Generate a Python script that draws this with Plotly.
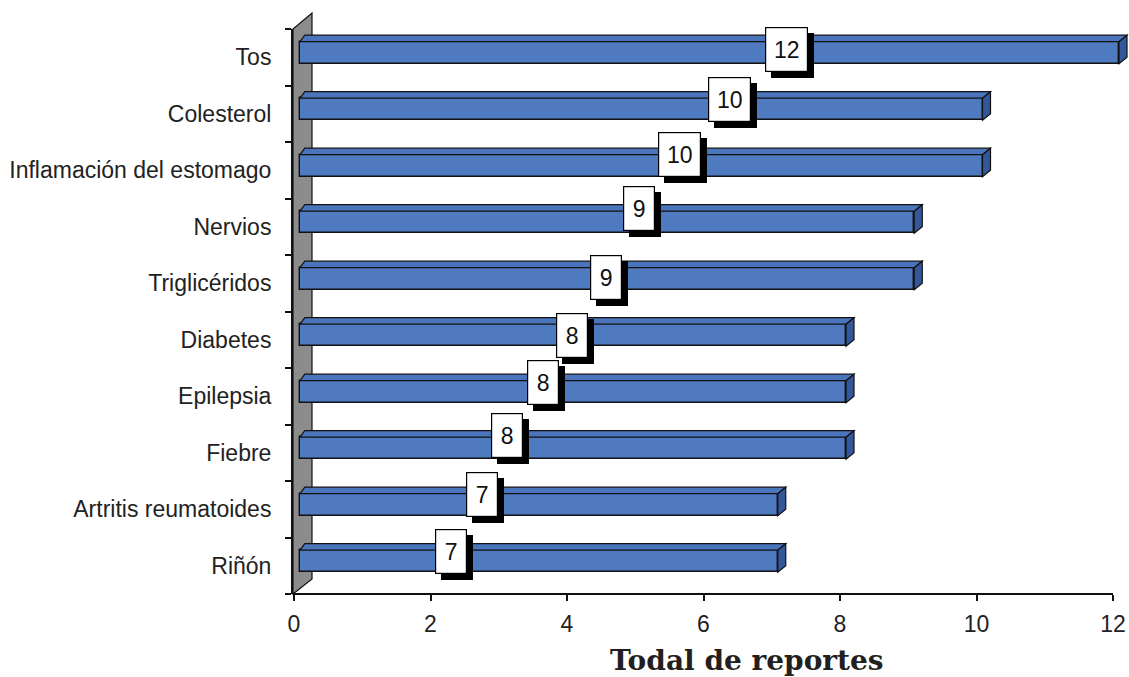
import plotly.graph_objects as go

# ---------------- data ----------------
categories = ["Tos", "Colesterol", "Inflamación del estomago", "Nervios", "Triglicéridos",
              "Diabetes", "Epilepsia", "Fiebre", "Artritis reumatoides", "Riñón"]
values = [12, 10, 10, 9, 9, 8, 8, 8, 7, 7]
x_ticks = [0, 2, 4, 6, 8, 10, 12]
x_title = "Todal de reportes"

# where the value boxes sit in the original (axis units / category units)
label_x = [7.215, 6.388, 5.646, 5.06, 4.571, 4.069, 3.653, 3.125, 2.75, 2.295]
label_lift = [0.062, 0.177, 0.195, 0.239, 0.018, 0.0, 0.159, 0.23, 0.177, 0.177]

# ---------------- style ----------------
W, H = 1129, 677
ML, MR, MT, MB = 293, 0, 29, 83
FRONT = "#4F7AC0"
TOP = "#4A74BB"
SIDE = "#34579A"
EDGE = "#111111"
FONT = "Arial, Liberation Sans, sans-serif"
PX_PER_UNIT = 68.25
X_LO = -1 / PX_PER_UNIT
X_HI = X_LO + (W - ML - MR) / PX_PER_UNIT
PX_PER_CAT = (H - MT - MB) / len(categories)
SHIFT = 6 / PX_PER_UNIT        # bars start a little behind the front axis
BAR_W = 0.39
BAR_OFF = -0.275
DX = 8 / PX_PER_UNIT
DY = 6.5 / PX_PER_CAT

idx = list(range(len(categories)))

fig = go.Figure()
fig.add_trace(go.Bar(
    orientation="h", y=idx, x=values, base=SHIFT, width=BAR_W, offset=BAR_OFF,
    marker=dict(color=FRONT, line=dict(color=EDGE, width=1.4)),
    hoverinfo="skip", showlegend=False,
))

shapes = []
# grey 3-D wall behind the category axis
wall_dx = 19 / (W - ML - MR)
shapes.append(dict(
    type="path", xref="paper", yref="paper", layer="below",
    path=f"M 0,0 L 0,1 L {wall_dx},{1 + 16 / (H - MT - MB)} L {wall_dx},{15 / (H - MT - MB)} Z",
    fillcolor="#8C8C8C", line=dict(color="#111111", width=1.2),
))

# 3-D top and end faces of each bar
for i, v in zip(idx, values):
    yt = i + BAR_OFF
    yb = yt + BAR_W
    x0 = SHIFT
    x1 = SHIFT + v
    shapes.append(dict(
        type="path", xref="x", yref="y", layer="above",
        path=f"M {x0},{yt} L {x1},{yt} L {x1 + DX},{yt - DY} L {x0 + DX * 0.6},{yt - DY} Z",
        fillcolor=TOP, line=dict(color=EDGE, width=1.2),
    ))
    shapes.append(dict(
        type="path", xref="x", yref="y", layer="above",
        path=f"M {x1},{yt} L {x1 + DX},{yt - DY} L {x1 + DX},{yb - DY} L {x1},{yb} Z",
        fillcolor=SIDE, line=dict(color=EDGE, width=1.2),
    ))

# value-axis line (ends at the last tick)
shapes.append(dict(type="line", xref="x", yref="paper", x0=X_LO, x1=x_ticks[-1], y0=0, y1=0,
                   line=dict(color="#111111", width=2)))

annotations = []
for i, v, lx, lift in zip(idx, values, label_x, label_lift):
    txt = str(v)
    bw = 33 if len(txt) > 1 else 22
    ly = i + BAR_OFF + BAR_W / 2 - lift
    common = dict(x=lx, y=ly, xref="x", yref="y", showarrow=False,
                  xanchor="center", yanchor="middle", width=bw, height=35,
                  borderpad=4, borderwidth=1.2, align="center", valign="middle")
    # drop shadow
    annotations.append(dict(common, text="&nbsp;", bgcolor="#000000", bordercolor="#000000",
                            xshift=6, yshift=-6,
                            font=dict(family=FONT, size=23, color="#000000")))
    annotations.append(dict(common, text=txt, bgcolor="#FFFFFF", bordercolor="#000000",
                            font=dict(family=FONT, size=23, color="#111111")))

annotations.append(dict(
    x=(747 - ML) / (W - ML - MR), y=(594 - 660) / (H - MT - MB), xref="paper", yref="paper",
    text=f"<b>{x_title}</b>", showarrow=False, xanchor="center", yanchor="middle",
    font=dict(family="DejaVu Serif, serif", size=28, color="#231F20"),
))

fig.update_layout(
    width=W, height=H,
    margin=dict(l=ML, r=MR, t=MT, b=MB, pad=0),
    paper_bgcolor="white", plot_bgcolor="rgba(0,0,0,0)",
    bargap=0, showlegend=False,
    shapes=shapes, annotations=annotations,
    xaxis=dict(range=[X_LO, X_HI], tickmode="array", tickvals=x_ticks,
               ticks="outside", ticklen=6, tickwidth=1.5, tickcolor="#111111",
               showgrid=False, zeroline=False, showline=False,
               tickfont=dict(family=FONT, size=23, color="#222222"),
               ticklabelstandoff=3),
    yaxis=dict(range=[len(categories) - 0.5, -0.5], tickmode="array", tickvals=idx,
               ticktext=categories, ticks="", showgrid=False, zeroline=False,
               showline=True, linecolor="#111111", linewidth=2,
               tickfont=dict(family=FONT, size=23, color="#222222"),
               ticklabelstandoff=15,
               minor=dict(tickmode="array", tickvals=[k - 0.5 for k in range(len(categories) + 1)],
                          ticks="outside", ticklen=6, tickwidth=1.5, tickcolor="#111111",
                          showgrid=False)),
)

fig.write_html("out.html", config={"displayModeBar": False})
